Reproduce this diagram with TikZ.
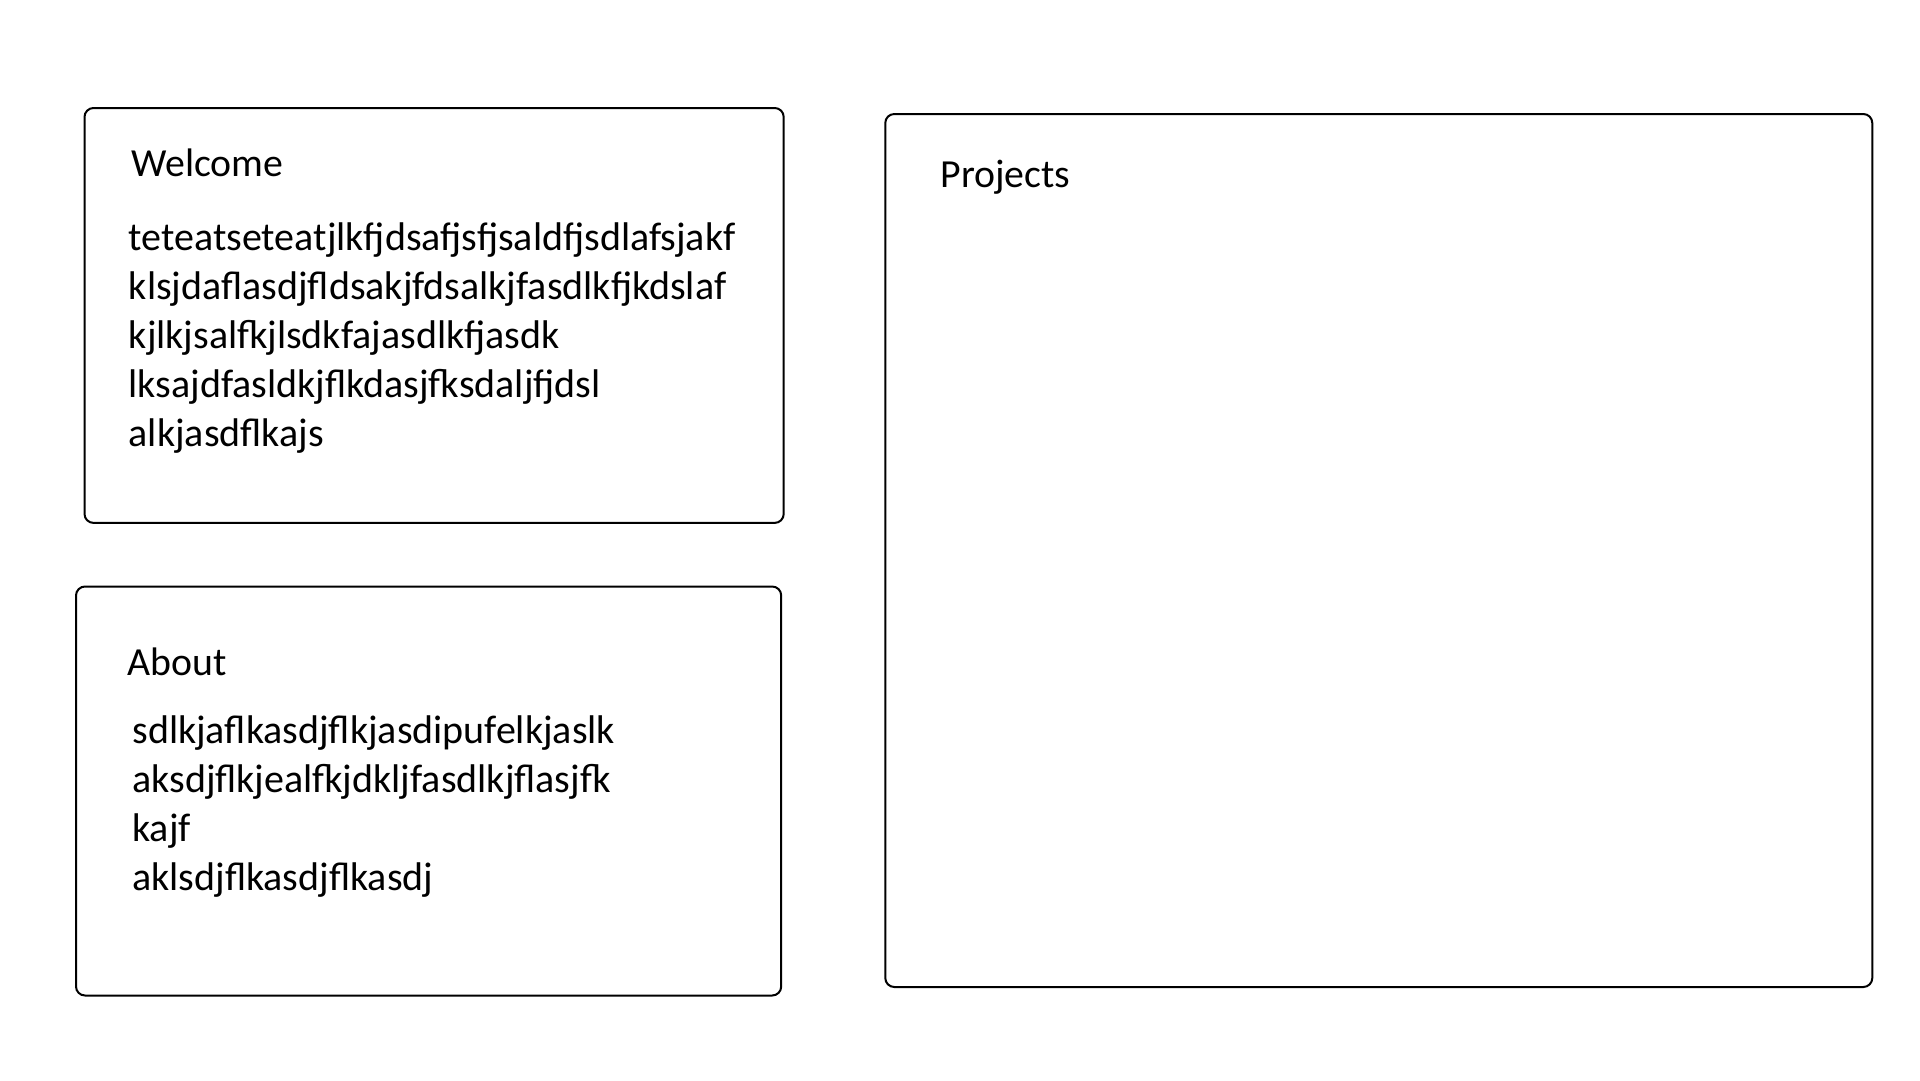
\documentclass[tikz,border=0pt]{standalone}
\usepackage{fontspec}
\setmainfont{Carlito}
\begin{document}
\begin{tikzpicture}[x=1pt,y=-1pt,
  panel/.style={draw=black,line width=2pt,rounded corners=9pt},
  title/.style={anchor=base west,inner sep=0pt,font=\fontsize{39.8}{48}\selectfont},
  body/.style={anchor=base west,inner sep=0pt,text width=640pt,align=left,font=\fontsize{40}{49}\selectfont}]
\useasboundingbox (0,0) rectangle (1920,1080);
\fill[white] (0,0) rectangle (1920,1080);
% panels
\draw[panel] (84.5,108) rectangle (783.7,522.9);
\draw[panel] (76,586.5) rectangle (781.2,995.5);
\draw[panel] (885.3,114) rectangle (1872.3,987);
% Welcome
\node[title] (welcome) at (131,176) {Welcome};
\node[body] (welcometext) at (128.6,250) {teteatseteatjlkfjdsafjsfjsaldfjsdlafsjakf\\klsjdaflasdjfldsakjfdsalkjfasdlkfjkdslaf\\kjlkjsalfkjlsdkfajasdlkfjasdk\\lksajdfasldkjflkdasjfksdaljfjdsl\\alkjasdflkajs};
% About
\node[title] (about) at (127.3,675.5) {About};
\node[body] (abouttext) at (132.2,743.5) {sdlkjaflkasdjflkjasdipufelkjaslk\\aksdjflkjealfkjdkljfasdlkjflasjfk\\kajf\\aklsdjflkasdjflkasdj};
% Projects
\node[title] (projects) at (940.4,187) {Projects};
\end{tikzpicture}
\end{document}
